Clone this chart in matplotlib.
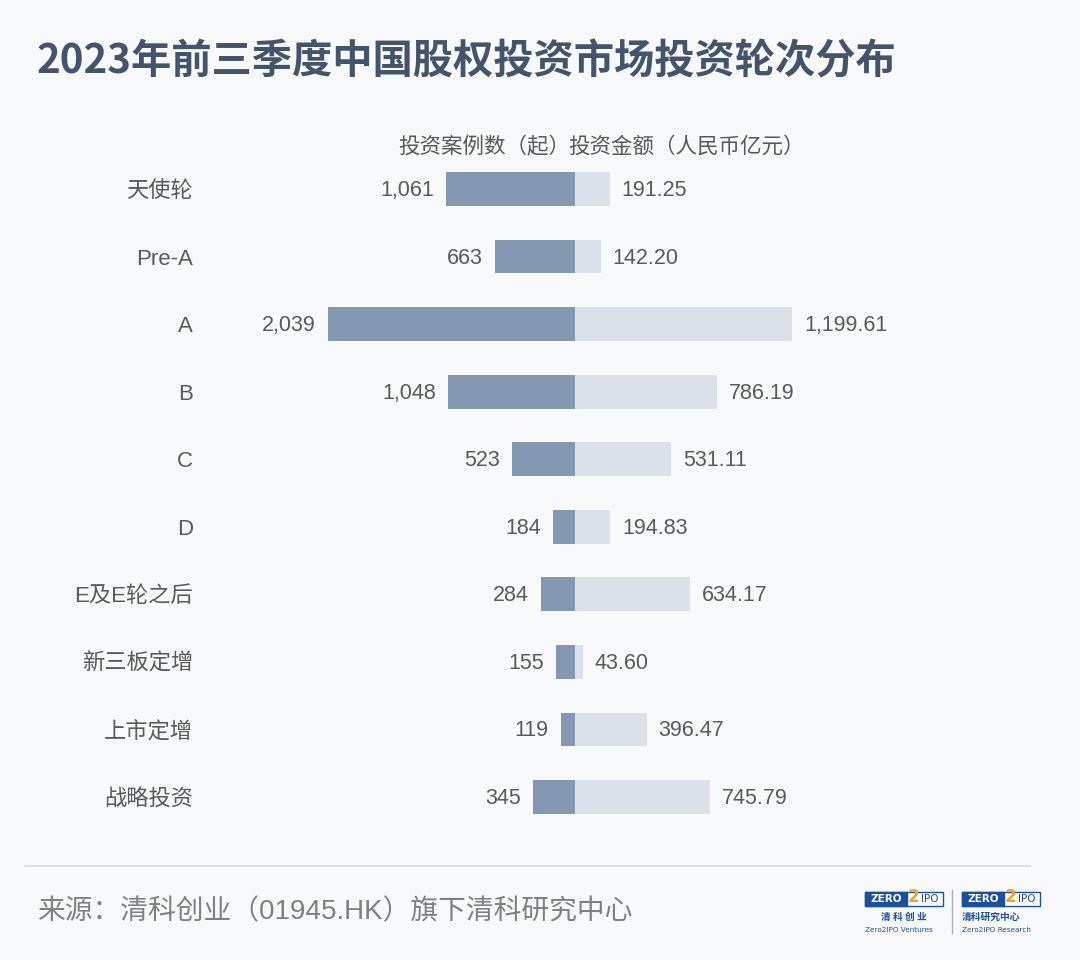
import matplotlib
matplotlib.use("Agg")
import matplotlib.pyplot as plt
from matplotlib.transforms import blended_transform_factory, offset_copy
from matplotlib.patches import Rectangle

categories = ["天使轮", "Pre-A", "A", "B", "C", "D", "E及E轮之后", "新三板定增", "上市定增", "战略投资"]
cases = [1061, 663, 2039, 1048, 523, 184, 284, 155, 119, 345]
amounts = [191.25, 142.20, 1199.61, 786.19, 531.11, 194.83, 634.17, 43.60, 396.47, 745.79]

title = "2023年前三季度中国股权投资市场投资轮次分布"
header_left = "投资案例数（起）"
header_right = "投资金额（人民币亿元）"
source = "来源：清科创业（01945.HK）旗下清科研究中心"

BG = "#f8f9fb"
DARK = "#8598b1"
LIGHT = "#dce1e9"
TXT = "#595959"
TITLE_C = "#44546a"
FONTS = ["Liberation Sans", "Noto Sans CJK SC", "DejaVu Sans"]
CJK = ["Noto Sans CJK SC", "DejaVu Sans"]
plt.rcParams["font.family"] = FONTS

W, H = 1080, 960
fig = plt.figure(figsize=(W / 100, H / 100), dpi=100, facecolor=BG)

def fx(px):
    return px / W

def fy(py):
    return 1 - py / H

cx = 575
left_px, right_px = 200, 1000
top_px, bot_px = 155.2, 830.8
n = len(categories)

axL = fig.add_axes([fx(left_px), fy(bot_px), fx(cx - left_px), (bot_px - top_px) / H])
axR = fig.add_axes([fx(cx), fy(bot_px), fx(right_px - cx), (bot_px - top_px) / H])
for ax in (axL, axR):
    ax.set_facecolor("none")
    ax.set_ylim(n - 0.5, -0.5)
    ax.axis("off")

px_per_case = 0.1213
px_per_amt = 0.1808
axL.set_xlim((cx - left_px) / px_per_case, 0)
axR.set_xlim(0, (right_px - cx) / px_per_amt)

ypos = list(range(n))
axL.barh(ypos, cases, height=0.5, color=DARK, edgecolor="none")
axR.barh(ypos, amounts, height=0.5, color=LIGHT, edgecolor="none")

for i, v in enumerate(cases):
    axL.annotate(f"{v:,}", (v, i), xytext=(-12, -1.5), textcoords="offset pixels",
                 ha="right", va="center", fontsize=15.5, color=TXT)
for i, v in enumerate(amounts):
    axR.annotate(f"{v:,.2f}", (v, i), xytext=(12, -1.5), textcoords="offset pixels",
                 ha="left", va="center", fontsize=15.5, color=TXT)

tr = blended_transform_factory(fig.transFigure, axL.transData)
tr = offset_copy(tr, fig=fig, x=0, y=-2.5, units="dots")
for i, c in enumerate(categories):
    axL.text(fx(193), i, c, transform=tr, ha="right", va="center", fontsize=16, color=TXT)

fig.text(fx(570), fy(147), header_left, ha="right", va="center", fontsize=15.5, color=TXT, family=CJK)
fig.text(fx(568), fy(147), header_right, ha="left", va="center", fontsize=15.5, color=TXT, family=CJK)

fig.text(fx(37), fy(62), title, ha="left", va="center", fontsize=29, fontweight="bold",
         color=TITLE_C, family=CJK)

fig.add_artist(plt.Line2D([fx(25), fx(1030)], [fy(866), fy(866)], color="#d9d9d9", lw=1.2))
fig.text(fx(37), fy(912), source, ha="left", va="center", fontsize=20, color="#808080")

# logos
BLUE = "#1d4f9c"
ORANGE = "#f0a030"
def logo(x0, sub, eng, spaced):
    fig.add_artist(Rectangle((fx(x0), fy(906)), fx(78), 14 / H, facecolor="white",
                             edgecolor=BLUE, lw=1.0, transform=fig.transFigure))
    fig.add_artist(Rectangle((fx(x0), fy(906)), fx(42), 14 / H, facecolor=BLUE,
                             edgecolor=BLUE, lw=1.0, transform=fig.transFigure))
    fig.text(fx(x0 + 21), fy(899), "ZERO", ha="center", va="center", fontsize=7.5,
             fontweight="bold", color="white", family=["DejaVu Sans"])
    fig.text(fx(x0 + 48), fy(897), "2", ha="center", va="center", fontsize=12,
             fontweight="bold", color=ORANGE, family=["DejaVu Sans"])
    fig.text(fx(x0 + 65), fy(899), "IPO", ha="center", va="center", fontsize=7.5,
             color=BLUE, family=["DejaVu Sans"])
    fig.text(fx(x0 + 39 if spaced else x0), fy(917), sub, ha="center" if spaced else "left",
             va="center", fontsize=7, fontweight="bold", color=BLUE, family=CJK)
    fig.text(fx(x0), fy(930), eng, ha="left", va="center", fontsize=5.2, color=BLUE,
             family=["DejaVu Sans"])

logo(865, "清 科 创 业", "Zero2IPO Ventures", True)
logo(962, "清科研究中心", "Zero2IPO Research", False)
fig.add_artist(plt.Line2D([fx(952), fx(952)], [fy(890), fy(933)], color="#b0b0b0", lw=1))

fig.savefig("out.png", dpi=100, facecolor=BG)
